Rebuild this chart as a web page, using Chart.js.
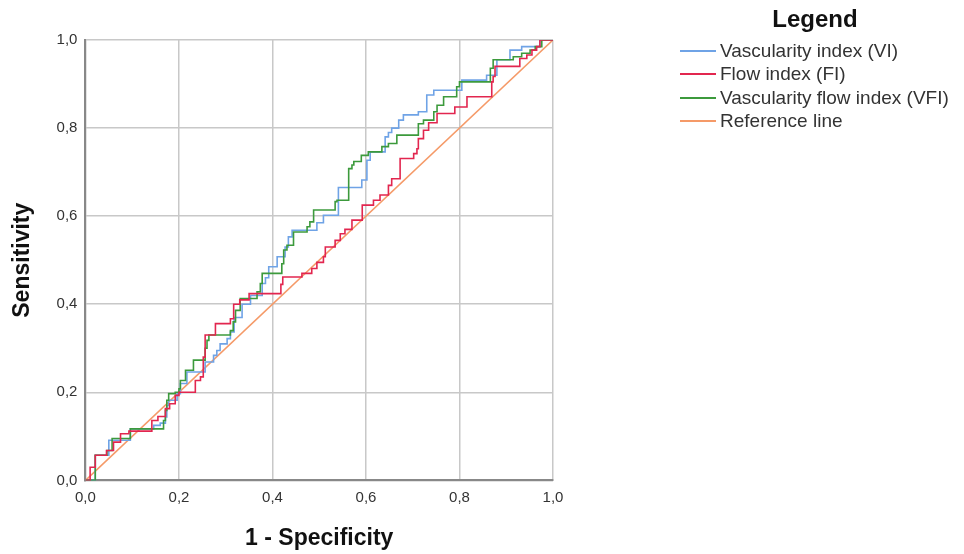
<!DOCTYPE html>
<html>
  <head>
    <script src="https://cdn.jsdelivr.net/npm/chart.js@4/dist/chart.umd.min.js"></script>
    <style>
      body { margin: 0; background: #fff; font-family: 'Liberation Sans', Arial, sans-serif; }
      #wrap { position: relative; width: 964px; height: 554px; }
      #legend { position: absolute; left: 680px; top: 5px; width: 284px; color: #333; }
      #legend .title { font-weight: bold; font-size: 24px; color: #111; width: 270px; text-align: center; margin-bottom: 6px; }
      #legend .row { display: flex; align-items: center; height: 23.5px; font-size: 19px; }
      #legend .sw { width: 36px; height: 2px; margin-right: 4px; }
    </style>
  </head>

  <body>
    <div id="wrap">
      <canvas id="roc" width="964" height="554"></canvas>
      <div id="legend"><div class="title">Legend</div></div>
    </div>
    <script>
      // ROC vertices: (1 - specificity, sensitivity) after each rise
      const viFpr = [0, 0.021, 0.05, 0.096, 0.146, 0.16, 0.171, 0.174, 0.178, 0.196, 0.203, 0.217, 0.256, 0.274, 0.281, 0.288, 0.303, 0.31, 0.318, 0.335, 0.353, 0.378, 0.385, 0.392, 0.41, 0.427, 0.434, 0.442, 0.495, 0.509, 0.541, 0.591, 0.602, 0.609, 0.641, 0.648, 0.655, 0.67, 0.68, 0.712, 0.73, 0.745, 0.805, 0.858, 0.88, 0.908, 0.933, 0.972, 1];
      const viTpr = [0, 0.057, 0.091, 0.117, 0.125, 0.13, 0.144, 0.17, 0.182, 0.197, 0.22, 0.246, 0.269, 0.284, 0.295, 0.31, 0.322, 0.337, 0.37, 0.4, 0.42, 0.447, 0.46, 0.485, 0.508, 0.53, 0.553, 0.568, 0.585, 0.602, 0.665, 0.682, 0.727, 0.746, 0.78, 0.79, 0.8, 0.818, 0.83, 0.837, 0.875, 0.886, 0.909, 0.92, 0.955, 0.977, 0.985, 1, 1];

      const fiFpr = [0, 0.01, 0.021, 0.045, 0.06, 0.075, 0.093, 0.142, 0.155, 0.171, 0.18, 0.192, 0.2, 0.235, 0.246, 0.252, 0.256, 0.278, 0.31, 0.317, 0.33, 0.35, 0.418, 0.422, 0.463, 0.484, 0.495, 0.509, 0.513, 0.534, 0.545, 0.555, 0.57, 0.592, 0.616, 0.63, 0.648, 0.655, 0.673, 0.702, 0.709, 0.712, 0.723, 0.734, 0.752, 0.79, 0.816, 0.869, 0.872, 0.876, 0.929, 0.944, 0.955, 0.965, 0.972, 1];
      const fiTpr = [0, 0.03, 0.057, 0.068, 0.087, 0.106, 0.112, 0.136, 0.145, 0.163, 0.174, 0.193, 0.2, 0.227, 0.235, 0.28, 0.33, 0.356, 0.367, 0.4, 0.41, 0.424, 0.445, 0.462, 0.47, 0.481, 0.495, 0.508, 0.53, 0.545, 0.56, 0.57, 0.591, 0.625, 0.636, 0.648, 0.67, 0.685, 0.731, 0.742, 0.753, 0.776, 0.795, 0.812, 0.833, 0.848, 0.871, 0.905, 0.917, 0.94, 0.958, 0.966, 0.977, 0.985, 1, 1];

      const vfiFpr = [0, 0.021, 0.046, 0.057, 0.096, 0.167, 0.171, 0.174, 0.178, 0.192, 0.2, 0.203, 0.214, 0.231, 0.256, 0.26, 0.264, 0.31, 0.316, 0.321, 0.331, 0.367, 0.374, 0.378, 0.42, 0.424, 0.431, 0.445, 0.474, 0.48, 0.488, 0.534, 0.538, 0.563, 0.57, 0.574, 0.59, 0.605, 0.634, 0.648, 0.666, 0.712, 0.723, 0.745, 0.752, 0.766, 0.794, 0.8, 0.866, 0.872, 0.915, 0.933, 0.951, 0.962, 0.976, 1];
      const vfiTpr = [0, 0.057, 0.068, 0.095, 0.117, 0.136, 0.159, 0.182, 0.197, 0.2, 0.208, 0.227, 0.25, 0.273, 0.3, 0.318, 0.33, 0.34, 0.36, 0.386, 0.413, 0.428, 0.447, 0.47, 0.492, 0.523, 0.534, 0.564, 0.576, 0.587, 0.614, 0.633, 0.636, 0.708, 0.716, 0.724, 0.738, 0.746, 0.758, 0.765, 0.784, 0.81, 0.818, 0.837, 0.852, 0.871, 0.894, 0.905, 0.936, 0.955, 0.962, 0.97, 0.977, 0.985, 1, 1];

      const refFpr = [0, 1];
      const refTpr = [0, 1];

      const labels = ['Vascularity index (VI)', 'Flow index (FI)', 'Vascularity flow index (VFI)', 'Reference line'];
      const colors = ['#6fa3e6', '#e2264f', '#3c9a3c', '#f59a68'];

      const toPts = (xs, ys) => xs.map((x, i) => ({ x: x, y: ys[i] }));
      const comma = (v) => v.toFixed(1).replace('.', ',');

      const series = [
        toPts(viFpr, viTpr),
        toPts(fiFpr, fiTpr),
        toPts(vfiFpr, vfiTpr),
        toPts(refFpr, refTpr),
      ];

      const tickFont = { family: 'Liberation Sans', size: 15 };
      const titleFont = { family: 'Liberation Sans', size: 23, weight: 'bold' };

      new Chart(document.getElementById('roc'), {
        type: 'line',
        data: {
          datasets: series.map((pts, i) => ({
            label: labels[i],
            data: pts,
            borderColor: colors[i],
            borderWidth: 1.6,
            pointRadius: 0,
            stepped: i < 3 ? 'before' : false,
            order: [3, 1, 2, 4][i],
          })),
        },
        options: {
          responsive: false,
          animation: false,
          layout: { padding: { left: 9, right: 411, top: 40, bottom: 2 } },
          plugins: { legend: { display: false }, tooltip: { enabled: false } },
          scales: {
            x: {
              type: 'linear', min: 0, max: 1,
              border: { color: '#888', width: 2 },
              grid: { color: '#c8c8c8', lineWidth: 1.5, drawTicks: false },
              ticks: { stepSize: 0.2, padding: 8, color: '#333', font: tickFont, callback: comma },
              title: { display: true, text: '1 - Specificity', color: '#111', font: titleFont, padding: { top: 10, bottom: 0 } },
            },
            y: {
              type: 'linear', min: 0, max: 1,
              border: { color: '#888', width: 2 },
              grid: { color: '#c8c8c8', lineWidth: 1.5, drawTicks: false },
              ticks: { stepSize: 0.2, padding: 8, color: '#333', font: tickFont, callback: comma },
              title: { display: true, text: 'Sensitivity', color: '#111', font: titleFont, padding: { top: 0, bottom: 12 } },
            },
          },
        },
      });

      const lg = document.getElementById('legend');
      labels.forEach((t, i) => {
        const row = document.createElement('div');
        row.className = 'row';
        row.innerHTML = '<span class="sw" style="background:' + colors[i] + '"></span><span>' + t + '</span>';
        lg.appendChild(row);
      });
    </script>
  </body>
</html>
